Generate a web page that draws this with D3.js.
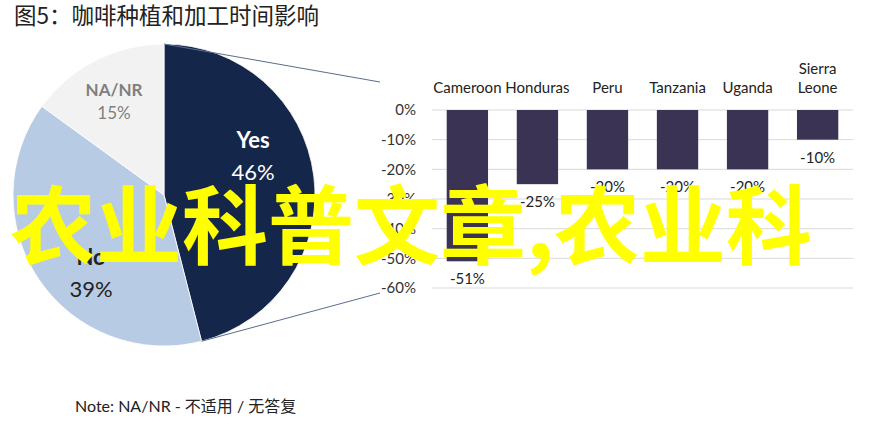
<!DOCTYPE html>
<html><head><meta charset="utf-8">
<script src="https://cdn.jsdelivr.net/npm/d3@7"></script>
<style>
html,body{margin:0;padding:0;background:#fff;}
svg{display:block;}
</style>
</head><body>
<svg id="chart" width="872" height="425"></svg>
<script>
// ---- data ----
const titleText = "图5：咖啡种植和加工时间影响";
const pieLabels = ["Yes", "No", "NA/NR"];
const pieValues = [46, 39, 15];
const countries = ["Cameroon", "Honduras", "Peru", "Tanzania", "Uganda", "Sierra Leone"];
const changes = [-51, -25, -20, -20, -20, -10];
const yTicks = [0, -10, -20, -30, -40, -50, -60];
const noteText = "Note: NA/NR - 不适用 / 无答复";
const overlayText = "农业科普文章,农业科";

// ---- styles ----
const pieColors = ["#14274a", "#b8cbe4", "#f2f2f2"];
const pieLabelColors = ["#ffffff", "#222222", "#7f7f7f"];
const barColor = "#3b3353";
const latin = "Lato, 'Liberation Sans', sans-serif";
const cjk = "'Noto Sans CJK SC', sans-serif";

const svg = d3.select("#chart");
svg.append("rect").attr("width", 872).attr("height", 425).attr("fill", "#fff");

// title
svg.append("text").attr("x", 14).attr("y", 24)
  .attr("font-family", cjk).attr("font-size", 22.5).attr("fill", "#222")
  .text(titleText);

// ---- pie ----
const cx = 164, cy = 195, R = 151;
const pieGen = d3.pie().sort(null).value(d => d)(pieValues);
const arc = d3.arc().innerRadius(0).outerRadius(R);
const pg = svg.append("g").attr("transform", `translate(${cx},${cy})`);
pg.selectAll("path").data(pieGen).join("path")
  .attr("d", arc).attr("fill", (d, i) => pieColors[i])
  .attr("stroke", "#ffffff").attr("stroke-width", 0.8);

// pie labels
const labelPos = [[89, -47], [-73, 70], [-50, -99]];
const labelSize = [22, 22, 17];
const pctOffset = [32, 32, 23];
pieGen.forEach((d, i) => {
  const [lx, ly] = labelPos[i];
  pg.append("text").attr("x", lx).attr("y", ly)
    .attr("text-anchor", "middle").attr("font-family", latin)
    .attr("font-weight", "bold").attr("font-size", labelSize[i])
    .attr("fill", pieLabelColors[i]).text(pieLabels[i]);
  pg.append("text").attr("x", lx).attr("y", ly + pctOffset[i])
    .attr("text-anchor", "middle").attr("font-family", latin)
    .attr("font-size", labelSize[i])
    .attr("fill", pieLabelColors[i]).text(pieValues[i] + "%");
});

// connector lines
const yesEnd = pieGen[0].endAngle;
const p1 = [cx, cy - R];
const p2 = [cx + R * Math.sin(yesEnd), cy - R * Math.cos(yesEnd)];
svg.append("line").attr("x1", p1[0]).attr("y1", p1[1]).attr("x2", 380).attr("y2", 82)
  .attr("stroke", "#5b6d8c").attr("stroke-width", 1);
svg.append("line").attr("x1", p2[0]).attr("y1", p2[1]).attr("x2", 380).attr("y2", 293)
  .attr("stroke", "#5b6d8c").attr("stroke-width", 1);

// ---- bar chart ----
const x = d3.scaleBand().domain(countries).range([432, 853]).paddingInner(0.41).paddingOuter(0.21);
const y = d3.scaleLinear().domain([0, -60]).range([110, 288]);

// gridlines
svg.append("g").selectAll("line").data(yTicks).join("line")
  .attr("x1", 432).attr("x2", 853)
  .attr("y1", d => y(d)).attr("y2", d => y(d))
  .attr("stroke", "#d9d9d9").attr("stroke-width", 1);

// y axis
const yAxis = svg.append("g").attr("transform", "translate(432,0)")
  .call(d3.axisLeft(y).tickValues(yTicks).tickSize(0).tickPadding(16).tickFormat(d => d + "%"));
yAxis.select(".domain").remove();
yAxis.selectAll("text").attr("font-family", latin).attr("font-size", 15).attr("fill", "#333");

// bars
svg.append("g").selectAll("rect").data(changes).join("rect")
  .attr("x", (d, i) => x(countries[i])).attr("width", x.bandwidth())
  .attr("y", y(0)).attr("height", d => y(d) - y(0))
  .attr("fill", barColor);

// value labels
svg.append("g").selectAll("text").data(changes).join("text")
  .attr("x", (d, i) => x(countries[i]) + x.bandwidth() / 2)
  .attr("y", d => y(d) + 23)
  .attr("text-anchor", "middle").attr("font-family", latin).attr("font-size", 15).attr("fill", "#222")
  .text(d => d + "%");

// category labels
countries.forEach(c => {
  const parts = c === "Sierra Leone" ? ["Sierra", "Leone"] : [c];
  parts.forEach((t, j) => {
    svg.append("text").attr("x", x(c) + x.bandwidth() / 2)
      .attr("y", 93 - (parts.length - 1 - j) * 19)
      .attr("text-anchor", "middle").attr("font-family", latin).attr("font-size", 15).attr("fill", "#222")
      .text(t);
  });
});

// note
svg.append("text").attr("x", 75).attr("y", 412)
  .attr("font-family", latin + ", " + cjk).attr("font-size", 16).attr("fill", "#222")
  .text(noteText);

// overlay yellow text
svg.append("text").attr("x", 10).attr("y", 258)
  .attr("font-family", cjk).attr("font-weight", "bold").attr("font-size", 86)
  .attr("fill", "#ffff00").text(overlayText);
</script>
</body></html>
